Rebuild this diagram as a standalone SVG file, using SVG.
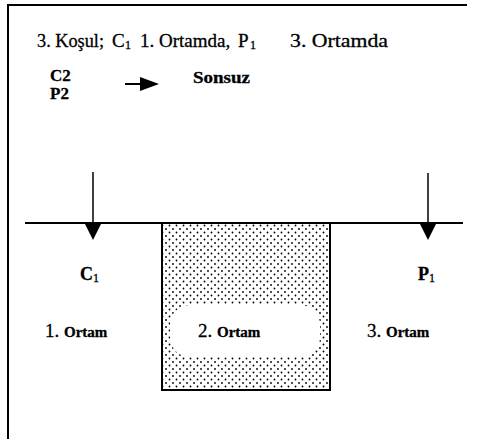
<svg xmlns="http://www.w3.org/2000/svg" width="491" height="439" viewBox="0 0 491 439">
<style>
text{font-family:"Liberation Serif","Times New Roman",serif;fill:#000;stroke:#000;stroke-width:0.3}
.s{font-size:12px}
.ln{stroke:#000;fill:none}
</style>
<defs>
<pattern id="dots" x="0" y="0" width="7" height="7" patternUnits="userSpaceOnUse">
<circle cx="1.5" cy="1.5" r="0.9" fill="#000"/>
<circle cx="5" cy="5" r="0.9" fill="#000"/>
</pattern>
</defs>
<rect width="491" height="439" fill="#fff"/>
<g id="frame">
<path class="ln" stroke-width="2" d="M8,439 L8,5 L467,5"/>
</g>
<g id="header" font-size="19">
<text x="37" y="47" textLength="67" lengthAdjust="spacingAndGlyphs">3. Koşul;</text>
<text x="112" y="47">C</text>
<text class="s" x="125" y="49">1</text>
<text x="140" y="47">1. Ortamda,</text>
<text x="238" y="47">P</text>
<text class="s" x="250" y="49">1</text>
<text x="290" y="47" textLength="98" lengthAdjust="spacingAndGlyphs">3. Ortamda</text>
<text x="50" y="81" font-weight="bold" font-size="17">C2</text>
<text x="50" y="99" font-weight="bold" font-size="17">P2</text>
<text x="193" y="83" font-weight="bold" font-size="17" textLength="57" lengthAdjust="spacingAndGlyphs">Sonsuz</text>
</g>
<g id="ortam2">
<rect x="162" y="223" width="168" height="167" fill="url(#dots)" stroke="#000" stroke-width="2"/>
<rect x="170" y="305" width="150" height="52" rx="20" fill="#fff"/>
</g>
<g id="connectors">
<line class="ln" stroke-width="2" x1="125" y1="84" x2="142" y2="84"/>
<path d="M140,77 L159,84 L140,91 Z" fill="#000"/>
<line class="ln" stroke-width="2" x1="25" y1="223" x2="463" y2="223"/>
<line class="ln" stroke-width="1.5" x1="93" y1="172" x2="93" y2="225"/>
<path d="M85,224 L101,224 L93,240 Z" fill="#000"/>
<line class="ln" stroke-width="1.5" x1="428" y1="173" x2="428" y2="225"/>
<path d="M420,224 L436,224 L428,240 Z" fill="#000"/>
</g>
<g id="labels">
<text x="80" y="280" font-size="18" font-weight="bold">C</text>
<text class="s" x="93" y="282">1</text>
<text x="418" y="280" font-size="18" font-weight="bold">P</text>
<text class="s" x="429" y="282">1</text>
<text x="45" y="337" font-size="19">1. <tspan font-size="15" font-weight="bold">Ortam</tspan></text>
<text x="198" y="337" font-size="19">2. <tspan font-size="15" font-weight="bold">Ortam</tspan></text>
<text x="367" y="337" font-size="19">3. <tspan font-size="15" font-weight="bold">Ortam</tspan></text>
</g>
</svg>
